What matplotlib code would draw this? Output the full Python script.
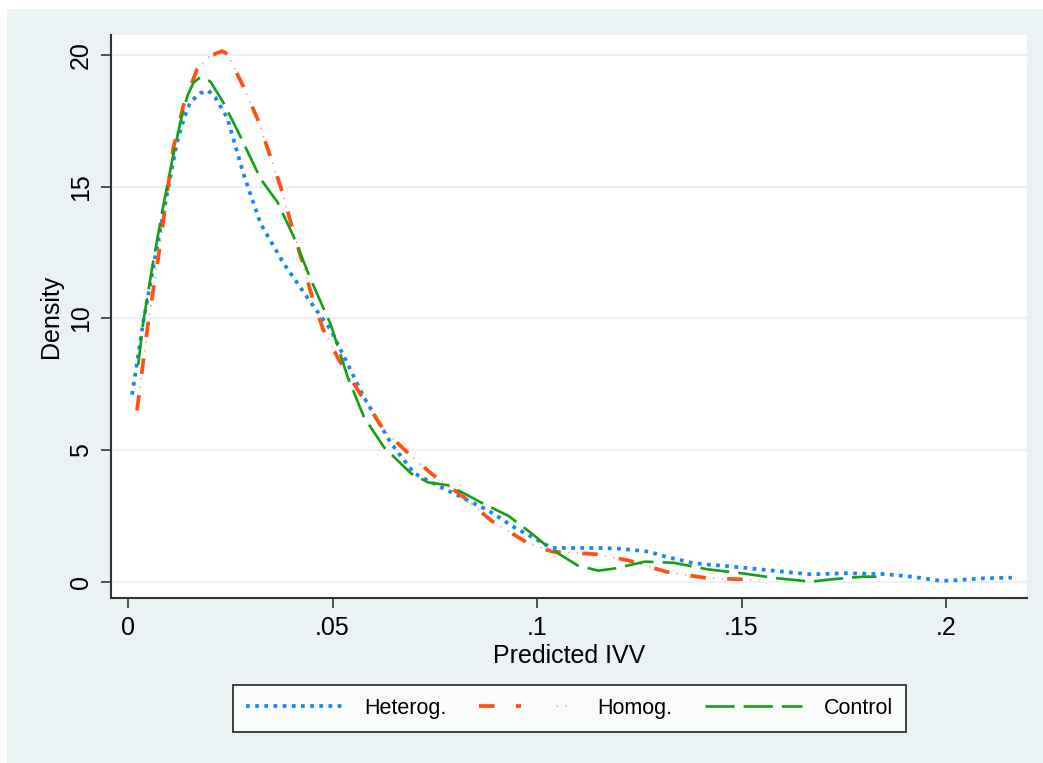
import matplotlib
matplotlib.use("Agg")
import matplotlib.pyplot as plt
from matplotlib.patches import Rectangle
from matplotlib.legend_handler import HandlerTuple

plt.rcParams['font.family'] = ['Liberation Sans', 'DejaVu Sans']
plt.rcParams['lines.scale_dashes'] = False

# ---- data ----
het_x = [0.001, 0.0037, 0.0078, 0.012, 0.0137, 0.0152, 0.0176, 0.0196, 0.0213, 0.0243, 0.0282,
         0.0324, 0.038, 0.0447, 0.0496, 0.0577, 0.0643, 0.070, 0.0766, 0.0822, 0.0881,
         0.0945, 0.1004, 0.1036, 0.115, 0.1205, 0.1273, 0.1315, 0.1383, 0.1493, 0.1628,
         0.1671, 0.1755, 0.1848, 0.1916, 0.1984, 0.201, 0.2094, 0.2161]
het_y = [7.1, 9.83, 13.3, 16.7, 17.6, 18.2, 18.55, 18.65, 18.4, 17.6, 15.5,
         13.6, 12.1, 10.6, 9.56, 7.0, 5.26, 4.11, 3.58, 3.16, 2.7,
         2.06, 1.56, 1.28, 1.28, 1.25, 1.14, 0.95, 0.70, 0.55, 0.34,
         0.28, 0.32, 0.29, 0.19, 0.04, 0.04, 0.13, 0.15]

hom_x = [0.0022, 0.0049, 0.0074, 0.011, 0.0135, 0.0169, 0.020, 0.023, 0.0243, 0.0282,
         0.0317, 0.0348, 0.0373, 0.0398, 0.0427, 0.0454, 0.0478, 0.0513, 0.0577, 0.0626,
         0.0685, 0.0741, 0.0822, 0.0888, 0.0979, 0.1037, 0.1147, 0.1225, 0.1315, 0.1417,
         0.150, 0.1544]
hom_y = [6.5, 9.8, 12.3, 16.4, 18.06, 19.47, 19.96, 20.15, 20.04, 18.8,
         17.56, 16.15, 15.0, 13.64, 12.1, 10.6, 9.55, 8.5, 6.9, 5.75,
         4.88, 4.11, 3.2, 2.32, 1.45, 1.14, 1.04, 0.8, 0.38, 0.13,
         0.09, 0.06]

con_x = [0.0025, 0.0037, 0.0061, 0.0086, 0.011, 0.0128, 0.0145, 0.016, 0.0177, 0.0201, 0.0233, 0.0275,
         0.0324, 0.0366, 0.0405, 0.0447, 0.0496, 0.0537, 0.0577, 0.0626, 0.0692, 0.0734,
         0.0783, 0.0822, 0.0864, 0.093, 0.0987, 0.1028, 0.110, 0.115, 0.119, 0.1264,
         0.1333, 0.1417, 0.150, 0.1587, 0.167, 0.172, 0.1797, 0.183]
con_y = [8.23, 9.83, 12.1, 14.25, 16.15, 17.45, 18.44, 18.95, 19.16, 19.0, 18.2, 16.9,
         15.3, 14.4, 13.1, 11.47, 9.75, 7.77, 6.25, 5.1, 4.11, 3.77,
         3.66, 3.35, 3.0, 2.5, 1.83, 1.3, 0.61, 0.42, 0.5, 0.76,
         0.72, 0.47, 0.32, 0.13, 0.0, 0.09, 0.19, 0.19]

labels = ["Heterog.", "Homog.", "Control"]
xticks = [0, 0.05, 0.1, 0.15, 0.2]
xticklabels = ["0", ".05", ".1", ".15", ".2"]
yticks = [0, 5, 10, 15, 20]

# ---- style ----
BG = '#EAF2F3'
BLUE = '#1A86F5'
ORANGE = '#FF5212'
GREEN = '#14A014'

W, H = 1043, 763
fig = plt.figure(figsize=(W / 100, H / 100), dpi=100, facecolor='white')
fig.patches.append(Rectangle((7 / W, 0), 1 - 7 / W, 1 - 9 / H, transform=fig.transFigure,
                             facecolor=BG, edgecolor='none', zorder=-10))

ax = fig.add_axes([111 / W, 1 - 598 / H, (1027 - 111) / W, (598 - 35) / H])
ax.set_facecolor('white')

l_het, = ax.plot(het_x, het_y, color=BLUE, lw=2.7, linestyle=(0, (2.7, 3.9)),
                 solid_capstyle='butt', dash_capstyle='butt', zorder=3)
l_hom1, = ax.plot(hom_x, hom_y, color=ORANGE, lw=2.7, linestyle=(0, (11.2, 15.4)),
                  dash_capstyle='butt', zorder=3)
l_hom2, = ax.plot(hom_x, hom_y, color=ORANGE, lw=1.1, alpha=0.75,
                  linestyle=(10.2, (0.8, 5.5, 0.8, 19.5)), dash_capstyle='butt', zorder=3)
l_con, = ax.plot(con_x, con_y, color=GREEN, lw=1.9, linestyle=(0, (21, 6.5)),
                 dash_capstyle='butt', zorder=3)

ax.set_xlim(-0.00416, 0.2198)
ax.set_ylim(-0.62, 20.76)
ax.set_xticks(xticks)
ax.set_xticklabels(xticklabels)
ax.set_yticks(yticks)
ax.grid(axis='y', color=BG, lw=1.6, zorder=0)
ax.set_axisbelow(True)

for s in ['top', 'right']:
    ax.spines[s].set_visible(False)
for s in ['left', 'bottom']:
    ax.spines[s].set_color('#333333')
    ax.spines[s].set_linewidth(1.5)

ax.tick_params(axis='both', direction='out', length=7, width=1.2, color='#333333',
               labelsize=18, labelcolor='black')
ax.tick_params(axis='x', pad=6)
ax.tick_params(axis='y', pad=6)
for t in ax.get_yticklabels():
    t.set_rotation(90)
    t.set_va('center')
    t.set_ha('right')

ax.set_xlabel("Predicted IVV", fontsize=18, labelpad=3)
ax.set_ylabel("Density", fontsize=18, labelpad=4)

leg = fig.legend([l_het, (l_hom1, l_hom2), l_con], labels,
                 handler_map={tuple: HandlerTuple(ndivide=None)},
                 loc='center', bbox_to_anchor=(569.5 / W, 1 - 708.5 / H),
                 ncol=3, fontsize=15.5, frameon=True, fancybox=False,
                 handlelength=4.5, handletextpad=1.0, columnspacing=1.5,
                 borderpad=0.62)
leg.get_frame().set_edgecolor('black')
leg.get_frame().set_linewidth(1.3)
leg.get_frame().set_facecolor('white')

fig.savefig("out.png", dpi=100, facecolor=fig.get_facecolor())
